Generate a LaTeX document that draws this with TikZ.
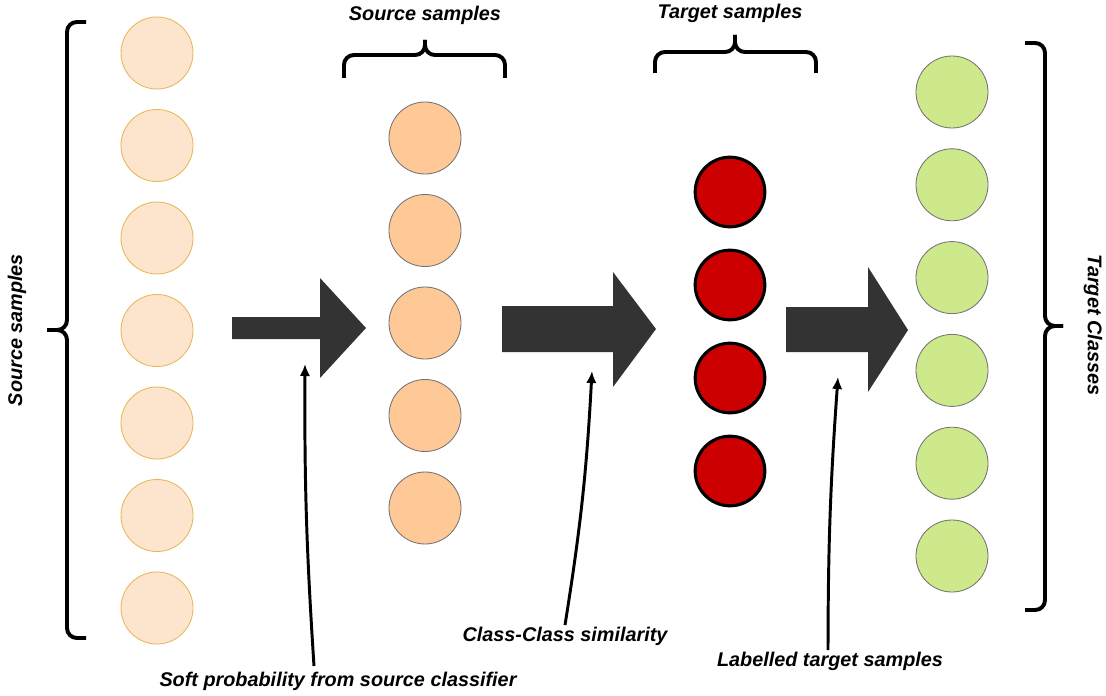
\documentclass[tikz,border=0pt]{standalone}
\usepackage{fontspec}
\setmainfont{Liberation Sans}
\usetikzlibrary{arrows.meta}
\definecolor{srcpale}{HTML}{FDE5CD}
\definecolor{srcedge}{HTML}{E6B657}
\definecolor{srcfill}{HTML}{FFC897}
\definecolor{tgtred}{HTML}{CC0000}
\definecolor{clsgreen}{HTML}{CDE98B}
\definecolor{arrowgray}{HTML}{333333}

\begin{document}
\begin{tikzpicture}[x=0.025cm,y=-0.025cm,line width=2.8pt,>={Latex[length=3mm,width=2.6mm]},
  lbl/.style={font=\fontsize{14.1}{16}\selectfont\bfseries\itshape,inner sep=0pt},
  dot/.style={circle,minimum size=1.8cm,inner sep=0pt,line width=0.6pt,draw=black!55},
  note/.style={->,line width=2.1pt}]
  \useasboundingbox (0,0) rectangle (1106,696);
  % circles
  \foreach \i in {0,...,6} \node[dot,draw=srcedge,fill=srcpale] (pale\i) at (157,{53+92.5*\i}) {};
  \foreach \i in {0,...,4} \node[dot,fill=srcfill] (src\i) at (425,{138+92.5*\i}) {};
  \foreach \i in {0,...,3} \node[dot,minimum size=1.74cm,line width=2.2pt,draw=black,fill=tgtred] (tgt\i) at (730,{192+93*\i}) {};
  \foreach \i in {0,...,5} \node[dot,fill=clsgreen] (cls\i) at (952,{92+92.8*\i}) {};
  % big arrows
  \fill[arrowgray] (232,317) -- (320,317) -- (320,278) -- (366,328) -- (320,378) -- (320,339) -- (232,339) -- cycle;
  \fill[arrowgray] (502,306) -- (613,306) -- (613,272) -- (656,329) -- (613,387) -- (613,352) -- (502,352) -- cycle;
  \fill[arrowgray] (786,307) -- (868,307) -- (868,267) -- (908,330) -- (868,392) -- (868,352) -- (786,352) -- cycle;
  % braces
  \draw[rounded corners=7] (86,22) -- (67,22) -- (67,330) -- (47,330);
  \draw[rounded corners=7] (47,330) -- (67,330) -- (67,638) -- (86,638);
  \draw[rounded corners=7] (344,78) -- (344,55) -- (425,55) -- (425,40);
  \draw[rounded corners=7] (425,40) -- (425,55) -- (505,55) -- (505,78);
  \draw[rounded corners=7] (655,73) -- (655,52) -- (735,52) -- (735,35);
  \draw[rounded corners=7] (735,35) -- (735,52) -- (816,52) -- (816,73);
  \draw[rounded corners=7] (1025,43) -- (1045,43) -- (1045,326) -- (1063,326);
  \draw[rounded corners=7] (1063,326) -- (1045,326) -- (1045,610) -- (1025,610);
  % labels
  \node[lbl] (srctop) at (425,15) {Source samples};
  \node[lbl] (tgttop) at (730,13) {Target samples};
  \node[lbl,rotate=90] (srcside) at (17,330) {Source samples};
  \node[lbl,rotate=-90] (clsside) at (1093,325) {Target Classes};
  \node[lbl] (softlbl) at (338,681) {Soft probability from source classifier};
  \node[lbl] (simlbl) at (565,636) {Class-Class similarity};
  \node[lbl] (labdlbl) at (830,661) {Labelled target samples};
  % annotation arrows
  \coordinate (softfoot) at (314,666);
  \coordinate (softtip) at (305,364);
  \coordinate (simfoot) at (565,625);
  \coordinate (simtip) at (592,371);
  \coordinate (labdfoot) at (828,650);
  \coordinate (labdtip) at (838,377);
  \draw[note] (softfoot) to[bend left=2] (softtip);
  \draw[note] (simfoot) to[bend right=3] (simtip);
  \draw[note] (labdfoot) to[bend left=2] (labdtip);
\end{tikzpicture}
\end{document}
